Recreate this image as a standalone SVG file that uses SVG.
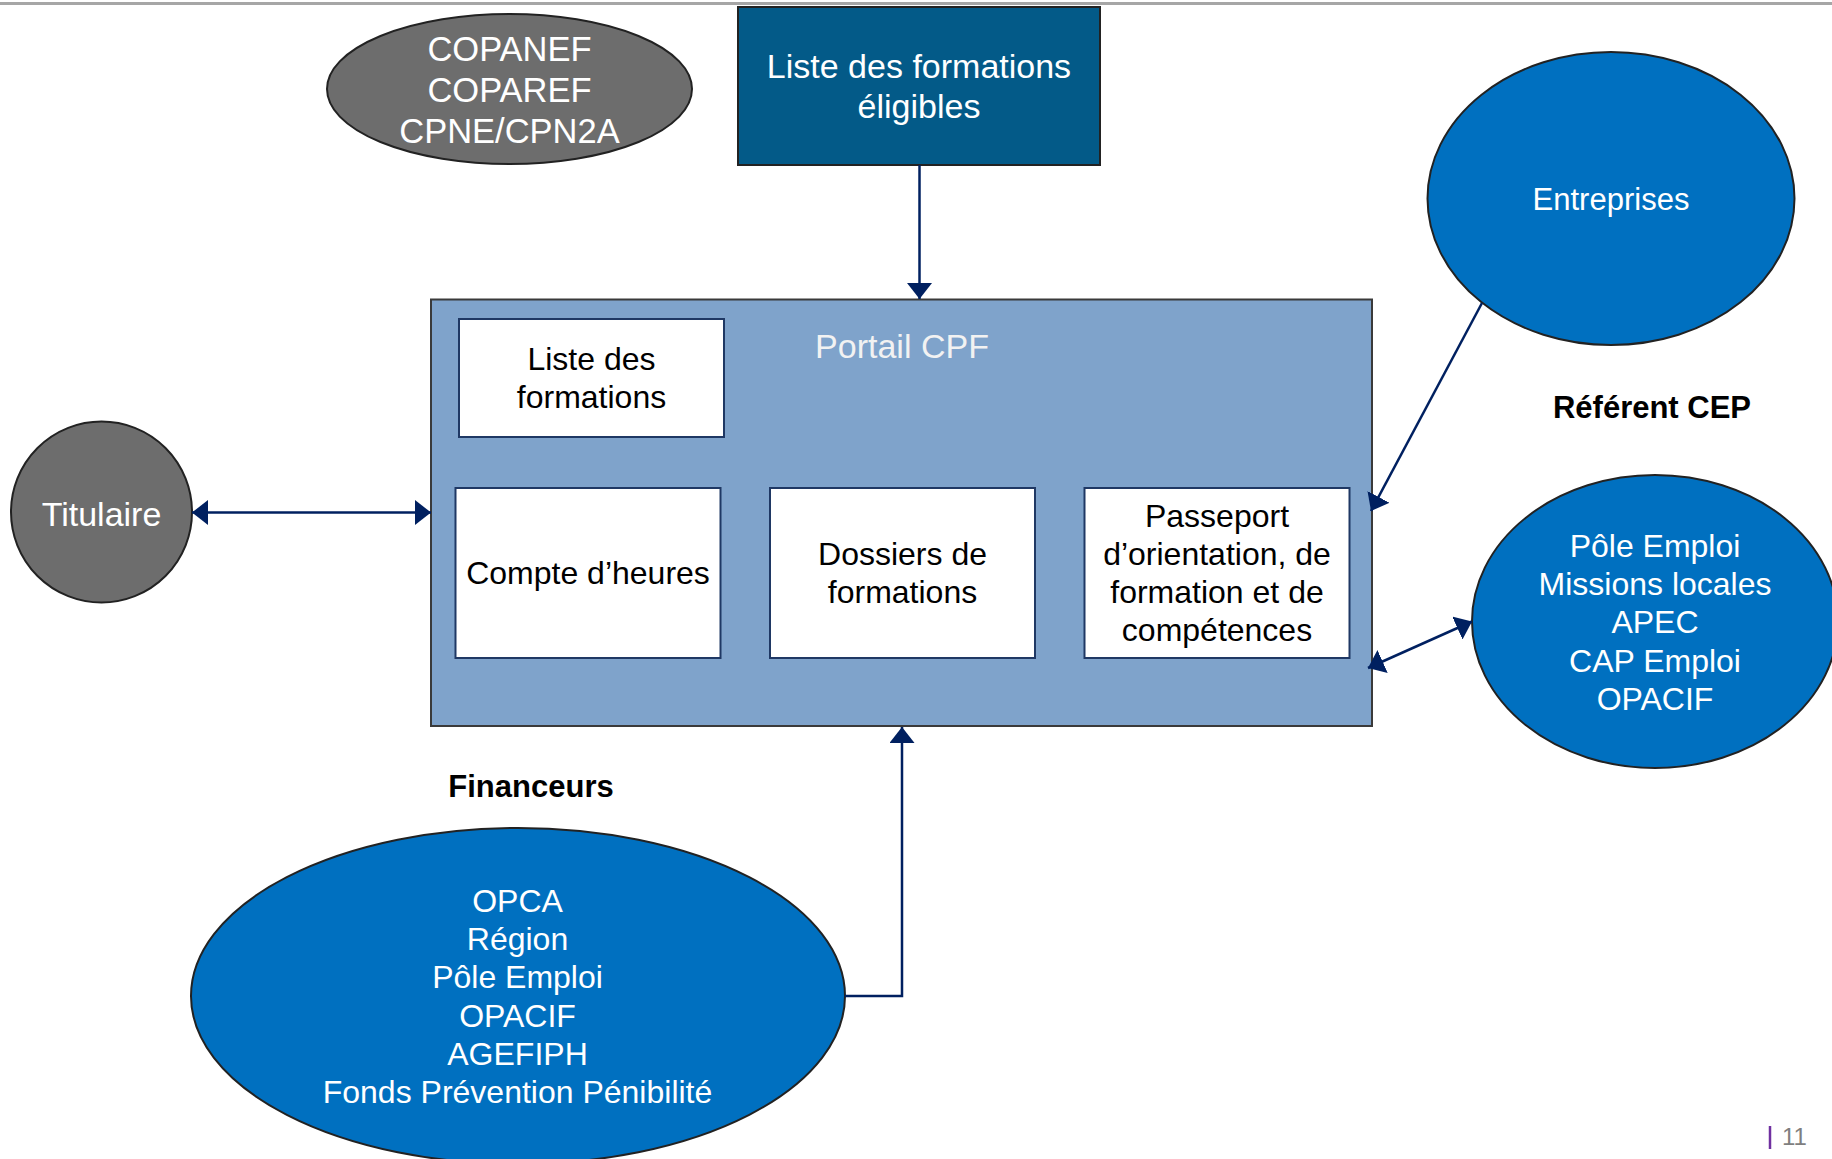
<svg xmlns="http://www.w3.org/2000/svg" width="1832" height="1159" viewBox="0 0 1832 1159">
  <style>
    .t { font-family: "Liberation Sans", Arial, sans-serif; text-anchor: middle; }
    .w { fill: #ffffff; }
    .k { fill: #000000; }
    .b { font-weight: bold; }
    .blue { fill: #0070c0; stroke: #222222; stroke-width: 2; }
    .gray { fill: #6d6d6d; stroke: #222222; stroke-width: 2; }
    .inner { fill: #ffffff; stroke: #1f3864; stroke-width: 2; }
    .conn { fill: none; stroke: #002060; stroke-width: 2.5; }
  </style>
  <defs>
    <marker id="ah" markerUnits="userSpaceOnUse" markerWidth="17" markerHeight="26" refX="16" refY="12.5" orient="auto-start-reverse" viewBox="0 0 17 26">
      <path d="M0,0 L16,12.5 L0,25 Z" fill="#002060"/>
    </marker>
  </defs>
  <rect x="0" y="0" width="1832" height="1159" fill="#ffffff"/>
  <line x1="0" y1="3.5" x2="1832" y2="3.5" stroke="#a6a6a6" stroke-width="3"/>

  <g id="copanef">
    <ellipse class="gray" cx="509.5" cy="89" rx="182.5" ry="75"/>
    <text class="t w" font-size="34.5" x="509.5" y="61">COPANEF</text>
    <text class="t w" font-size="34.5" x="509.5" y="102">COPAREF</text>
    <text class="t w" font-size="34.5" x="509.5" y="143">CPNE/CPN2A</text>
  </g>

  <g id="liste-eligibles">
    <rect x="738" y="7" width="362" height="158" fill="#035a88" stroke="#222222" stroke-width="2"/>
    <text class="t w" font-size="34" x="919" y="78">Liste des formations</text>
    <text class="t w" font-size="34" x="919" y="118">éligibles</text>
  </g>

  <g id="entreprises">
    <ellipse class="blue" cx="1611" cy="198.5" rx="183.5" ry="146.5"/>
    <text class="t w" font-size="31" x="1611" y="210">Entreprises</text>
  </g>

  <g id="referent-cep">
    <text class="t k b" font-size="31" x="1652" y="418">Référent CEP</text>
  </g>

  <g id="portail">
    <rect x="431" y="299.5" width="941" height="426.5" fill="#7fa3cb" stroke="#3a3a3a" stroke-width="2"/>
    <text class="t" font-size="34" fill="#f2f2f2" x="902" y="358">Portail CPF</text>
  </g>

  <g id="liste-formations">
    <rect class="inner" x="459" y="319" width="265" height="118"/>
    <text class="t k" font-size="32" x="591.5" y="370">Liste des</text>
    <text class="t k" font-size="32" x="591.5" y="408">formations</text>
  </g>

  <g id="compte-heures">
    <rect class="inner" x="455.5" y="488" width="265" height="170"/>
    <text class="t k" font-size="32" x="588" y="584">Compte d’heures</text>
  </g>

  <g id="dossiers">
    <rect class="inner" x="770" y="488" width="265" height="170"/>
    <text class="t k" font-size="32" x="902.5" y="565">Dossiers de</text>
    <text class="t k" font-size="32" x="902.5" y="603">formations</text>
  </g>

  <g id="passeport">
    <rect class="inner" x="1084.5" y="488" width="265" height="170"/>
    <text class="t k" font-size="32" x="1217" y="527">Passeport</text>
    <text class="t k" font-size="32" x="1217" y="565">d’orientation, de</text>
    <text class="t k" font-size="32" x="1217" y="603">formation et de</text>
    <text class="t k" font-size="32" x="1217" y="641">compétences</text>
  </g>

  <g id="titulaire">
    <circle class="gray" cx="101.5" cy="512" r="90.5"/>
    <text class="t w" font-size="34" x="101.5" y="526">Titulaire</text>
  </g>

  <g id="referents">
    <ellipse class="blue" cx="1655" cy="621.5" rx="183" ry="146.5"/>
    <text class="t w" font-size="32" x="1655" y="557">Pôle Emploi</text>
    <text class="t w" font-size="32" x="1655" y="595">Missions locales</text>
    <text class="t w" font-size="32" x="1655" y="633">APEC</text>
    <text class="t w" font-size="32" x="1655" y="672">CAP Emploi</text>
    <text class="t w" font-size="32" x="1655" y="710">OPACIF</text>
  </g>

  <g id="financeurs-label">
    <text class="t k b" font-size="31" x="531" y="797">Financeurs</text>
  </g>

  <g id="financeurs">
    <ellipse class="blue" cx="518" cy="996" rx="327" ry="168"/>
    <text class="t w" font-size="32" x="517.5" y="912">OPCA</text>
    <text class="t w" font-size="32" x="517.5" y="950">Région</text>
    <text class="t w" font-size="32" x="517.5" y="988">Pôle Emploi</text>
    <text class="t w" font-size="32" x="517.5" y="1027">OPACIF</text>
    <text class="t w" font-size="32" x="517.5" y="1065">AGEFIPH</text>
    <text class="t w" font-size="32" x="517.5" y="1103">Fonds Prévention Pénibilité</text>
  </g>

  <g id="connectors">
    <line class="conn" x1="919.5" y1="165" x2="919.5" y2="299" marker-end="url(#ah)"/>
    <line class="conn" x1="192" y1="512.5" x2="431" y2="512.5" marker-start="url(#ah)" marker-end="url(#ah)"/>
    <line class="conn" x1="1482" y1="303" x2="1371" y2="511" marker-end="url(#ah)"/>
    <line class="conn" x1="1368" y1="668" x2="1472" y2="621.5" marker-start="url(#ah)" marker-end="url(#ah)"/>
    <polyline class="conn" points="845,996 902,996 902,727" marker-end="url(#ah)"/>
  </g>

  <g id="page-number">
    <line x1="1770" y1="1126" x2="1770" y2="1149" stroke="#7030a0" stroke-width="2.5"/>
    <text font-family="'Liberation Sans', Arial, sans-serif" font-size="24" fill="#7f7f7f" x="1782" y="1145">11</text>
  </g>
</svg>
